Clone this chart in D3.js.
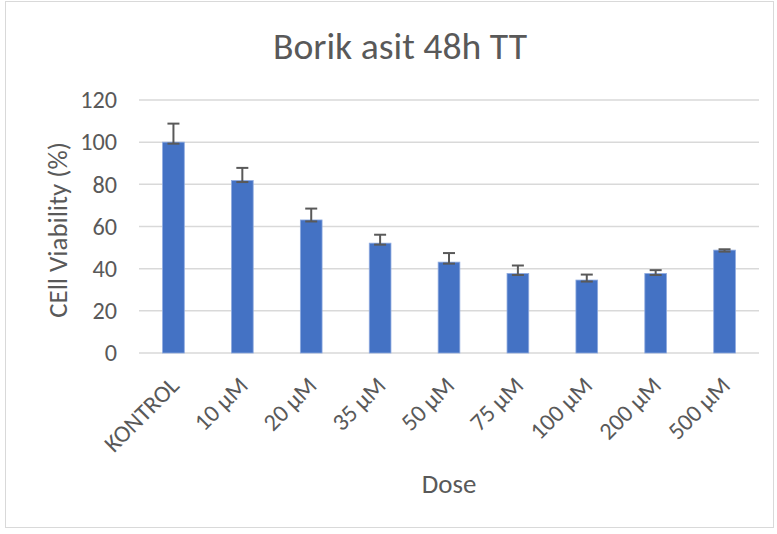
<!DOCTYPE html>
<html>
<head>
<meta charset="utf-8">
<script src="https://cdn.jsdelivr.net/npm/d3@7"></script>
<style>
  body { margin: 0; background: #fff; }
  text { font-family: Carlito, "Open Sans", sans-serif; fill: #595959; }
</style>
</head>
<body>
<div class="board"></div>
<script>
// chart values
var doses = ['KONTROL', '10 µM', '20 µM', '35 µM', '50 µM', '75 µM', '100 µM', '200 µM', '500 µM'];
var viability = [100, 81.8, 63.1, 52.1, 43.1, 37.7, 34.6, 37.7, 48.8];
var errors = [8.8, 6, 5.4, 4, 4.3, 3.8, 2.6, 1.6, 0.4];
var yTicks = [0, 20, 40, 60, 80, 100, 120];

var opts = {
  width: 777,
  height: 534,
  left: 139,
  right: 759,
  top: 100,
  bottom: 353
};

var svg = d3.select('.board')
  .append('svg')
  .attr('width', opts.width)
  .attr('height', opts.height);

// outer chart frame
svg.append('rect')
  .attr('x', 5.5).attr('y', 1.5)
  .attr('width', 768).attr('height', 526)
  .attr('fill', '#fff')
  .attr('stroke', '#d9d9d9')
  .attr('stroke-width', 1);

var x = d3.scaleBand().domain(doses).range([opts.left, opts.right]).paddingInner(0.685).paddingOuter(0.3425);
var y = d3.scaleLinear().domain([0, 120]).range([opts.bottom, opts.top]);

// gridlines
svg.append('g')
  .selectAll('line')
  .data(yTicks)
  .enter().append('line')
  .attr('x1', opts.left).attr('x2', opts.right)
  .attr('y1', d => y(d)).attr('y2', d => y(d))
  .attr('stroke', '#d9d9d9')
  .attr('stroke-width', 1.5);

// y axis labels
var yAxis = d3.axisLeft(y).tickValues(yTicks).tickSize(0).tickPadding(22);
var yg = svg.append('g').attr('transform', `translate(${opts.left},0)`).call(yAxis);
yg.select('.domain').remove();
yg.selectAll('text').style('font-size', '24.2px').style('fill', '#595959')
  .style('font-family', 'Carlito, "Open Sans", sans-serif');

// bars
svg.append('g')
  .selectAll('rect')
  .data(viability)
  .enter().append('rect')
  .attr('x', (d, i) => x(doses[i]))
  .attr('y', d => y(d))
  .attr('width', x.bandwidth())
  .attr('height', d => opts.bottom - y(d))
  .attr('fill', '#4472c4')
  .attr('stroke', '#8eaadf')
  .attr('stroke-width', 0.8);

// error bars (plus direction)
var eg = svg.append('g').attr('stroke', '#595959').attr('stroke-width', 2);
viability.forEach(function (v, i) {
  var cx = x(doses[i]) + x.bandwidth() / 2;
  var top = y(v + errors[i]);
  var base = y(v) + 1.5;
  eg.append('line').attr('x1', cx).attr('x2', cx).attr('y1', base).attr('y2', top);
  eg.append('line').attr('x1', cx - 6).attr('x2', cx + 6).attr('y1', top).attr('y2', top);
  eg.append('line').attr('x1', cx - 6).attr('x2', cx + 6).attr('y1', base).attr('y2', base);
});

// x axis labels, rotated
var xAxis = d3.axisBottom(x).tickSize(0).tickPadding(0);
var xg = svg.append('g').attr('transform', `translate(0,${opts.bottom})`).call(xAxis);
xg.select('.domain').remove();
xg.selectAll('text')
  .style('font-size', '24.2px')
  .style('fill', '#595959')
  .style('font-family', 'Carlito, "Open Sans", sans-serif')
  .attr('text-anchor', 'end')
  .attr('y', 0)
  .attr('dy', '0.35em')
  .attr('transform', 'translate(1,28) rotate(-45)');

// titles
svg.append('text')
  .attr('x', 400).attr('y', 59)
  .attr('text-anchor', 'middle')
  .style('font-size', '37.7px')
  .text('Borik asit 48h TT');

svg.append('text')
  .attr('x', 449).attr('y', 493)
  .attr('text-anchor', 'middle')
  .style('font-size', '26.9px')
  .text('Dose');

svg.append('text')
  .attr('transform', 'translate(67,230) rotate(-90)')
  .attr('text-anchor', 'middle')
  .style('font-size', '26.9px')
  .text('CEll Viability (%)');
</script>
</body>
</html>
